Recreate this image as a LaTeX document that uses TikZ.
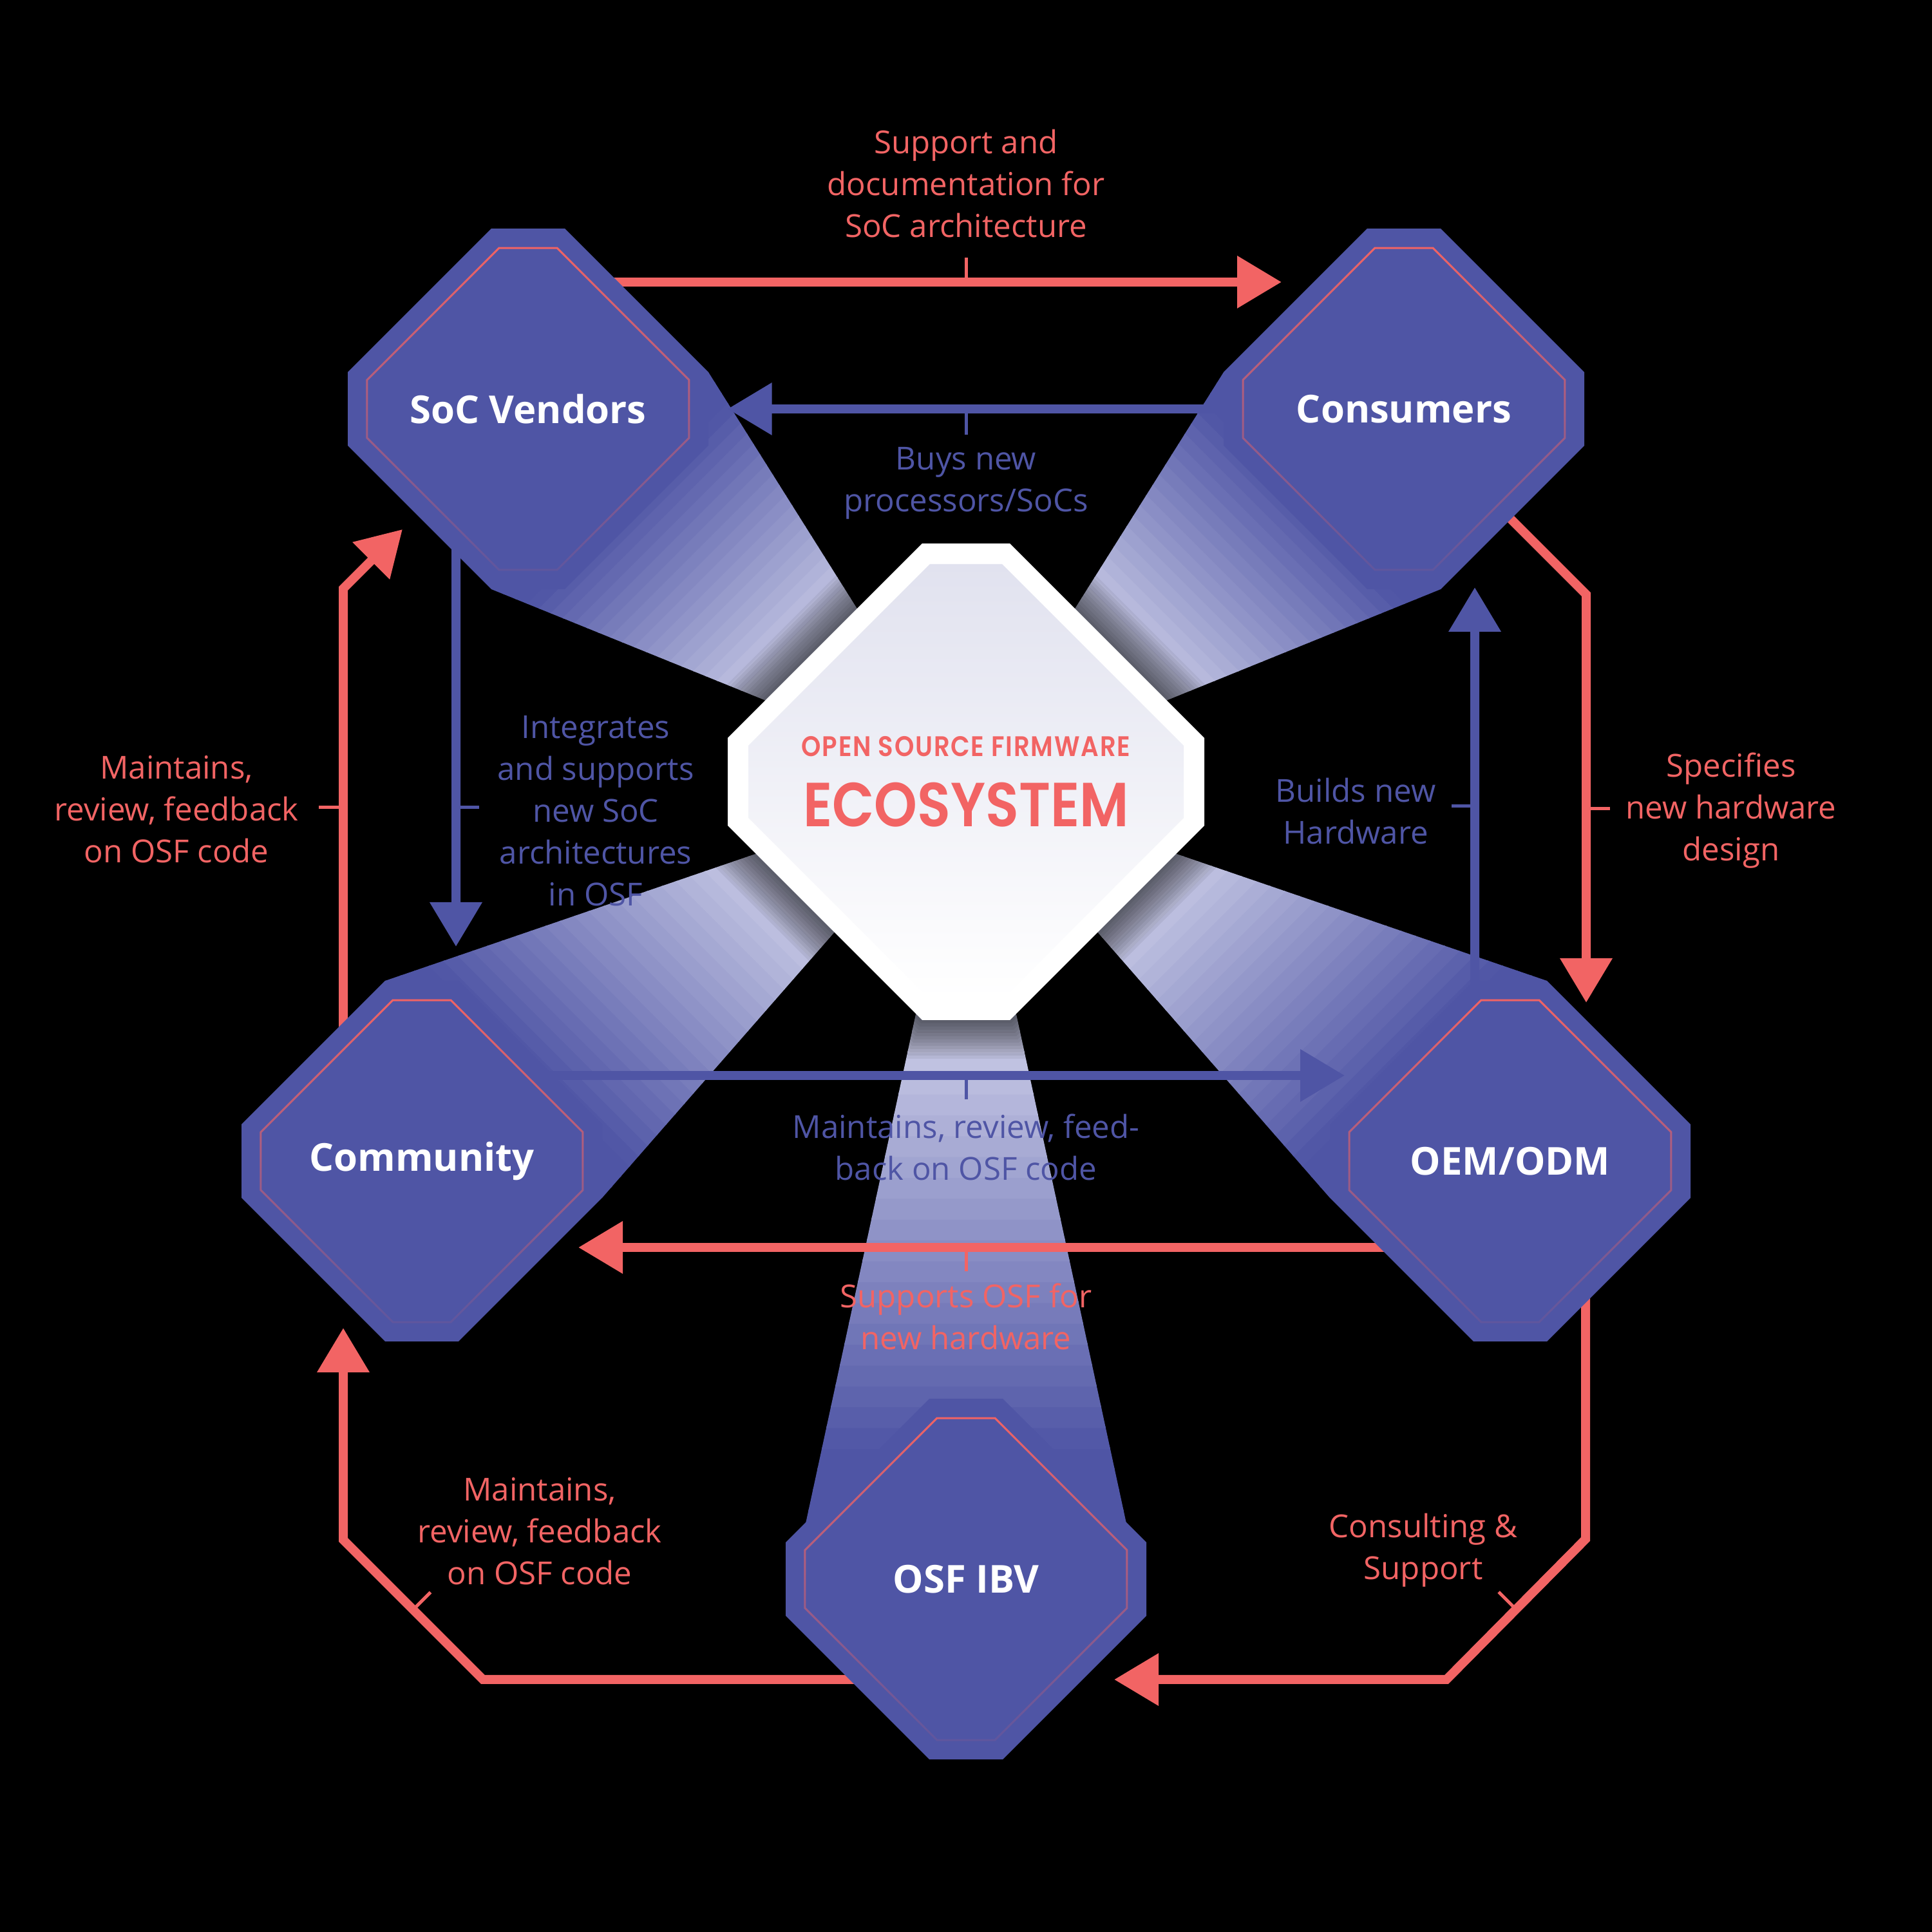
\documentclass[tikz,border=0pt]{standalone}
\usepackage{fontspec}
\setmainfont{Open Sans}
\IfFontExistsTF{Poppins SemiBold}
  {\newfontfamily\ecofont{Poppins}[FakeStretch=0.88, BoldFont={* SemiBold}]}
  {\newfontfamily\ecofont{Poppins}[FakeStretch=0.88]}
\usetikzlibrary{arrows.meta, calc, positioning, fadings}
\definecolor{osfIndigo}{HTML}{4F55A5}
\definecolor{osfRed}{HTML}{F26464}
\definecolor{osfLav}{HTML}{C9CBE6}
\definecolor{osfEcoTop}{HTML}{E1E2EF}
\pgfdeclarelayer{beamlayer}
\pgfdeclarelayer{flowlayer}
\pgfdeclarelayer{shapelayer}
\pgfsetlayers{beamlayer,flowlayer,shapelayer,main}
\tikzfading[name=octfade, top color=transparent!0, middle color=transparent!0, bottom color=transparent!90]
% octagon round a named point: half size, half flat side
\newcommand{\octagonpath}[3]{($(#1)+(-#3,#2)$) -- ($(#1)+(#3,#2)$) -- ($(#1)+(#2,#3)$) -- ($(#1)+(#2,-#3)$) -- ($(#1)+(#3,-#2)$) -- ($(#1)+(-#3,-#2)$) -- ($(#1)+(-#2,-#3)$) -- ($(#1)+(-#2,#3)$) -- cycle}
% light beam from two corners to the ecosystem centre
\newcommand{\lightbeam}[4]{%
  \foreach \i in {0,...,39}{%
    \pgfmathsetmacro{\ta}{\i/40}%
    \pgfmathsetmacro{\tb}{(\i+1.1)/40}%
    \pgfmathsetmacro{\mixv}{max(0,min(100,100*((\i+0.5)/40-#3)/(#4-#3)))}%
    \fill[osfLav!\mixv!osfIndigo] ($(#1)!\ta!(eco)$) -- ($(#1)!\tb!(eco)$) -- ($(#2)!\tb!(eco)$) -- ($(#2)!\ta!(eco)$) -- cycle;
  }}
\tikzset{
  actor/.style={minimum width=5.6cm, minimum height=5.6cm, text=white,
    font=\fontsize{17}{21}\selectfont\bfseries},
  octline/.style={draw=osfRed, line width=0.3mm, path fading=octfade},
  redflow/.style={draw=osfRed, line width=1.4mm, -{Triangle[length=6.9mm, width=7.8mm]}},
  blueflow/.style={redflow, draw=osfIndigo},
  redtick/.style={draw=osfRed, line width=0.5mm},
  bluetick/.style={redtick, draw=osfIndigo},
  redlbl/.style={text=osfRed, font=\fontsize{14}{18.5}\selectfont, align=center},
  bluelbl/.style={redlbl, text=osfIndigo}
}
\begin{document}
\begin{tikzpicture}
  % actors
  \node[actor] (soc) at (8.2,23.65) {SoC Vendors};
  \node[actor] (cons) at (21.8,23.65) {Consumers};
  \node[actor] (comm) at (6.55,11.97) {Community};
  \node[actor] (oem) at (23.45,11.97) {OEM/ODM};
  \node[actor] (ibv) at (15,5.48) {OSF IBV};
  \node[text=osfRed, align=center, font=\ecofont\bfseries\fontsize{27.5}{31}\selectfont] (eco) at (15,17.86)
    {{\fontsize{12.5}{15}\selectfont\addfontfeatures{LetterSpace=4}OPEN SOURCE FIRMWARE}\\ECOSYSTEM};

  \begin{pgfonlayer}{beamlayer}
    \fill[black] (0,0) rectangle (30,30);
    \coordinate (socA) at ($(soc)+(2.8,0.57)$);
    \coordinate (socB) at ($(soc)+(-0.57,-2.8)$);
    \coordinate (consA) at ($(cons)+(-2.8,0.57)$);
    \coordinate (consB) at ($(cons)+(0.57,-2.8)$);
    \coordinate (commA) at ($(comm)+(-0.57,2.8)$);
    \coordinate (commB) at ($(comm)+(2.8,-0.57)$);
    \coordinate (oemA) at ($(oem)+(0.57,2.8)$);
    \coordinate (oemB) at ($(oem)+(-2.8,-0.57)$);
    \coordinate (ibvA) at ($(ibv)+(-2.8,-0.57)$);
    \coordinate (ibvB) at ($(ibv)+(2.8,-0.57)$);
    \lightbeam{socA}{socB}{0.08}{0.56}
    \lightbeam{consA}{consB}{0.08}{0.56}
    \lightbeam{commA}{commB}{0.08}{0.62}
    \lightbeam{oemA}{oemB}{0.08}{0.62}
    \lightbeam{ibvA}{ibvB}{0.2}{0.7}
    % shadow of the centre
    \foreach \k in {1,...,12}{
      \pgfmathsetmacro{\sh}{3.7+0.05*\k}
      \pgfmathsetmacro{\sf}{0.68+0.02*\k}
      \fill[black, opacity=0.06] \octagonpath{eco}{\sh}{\sf};
    }
  \end{pgfonlayer}

  \begin{pgfonlayer}{flowlayer}
    \draw[redflow] ($(soc)+(1.2,1.97)$) -- ($(cons)+(-1.9,1.97)$);
    \draw[redtick] (15,25.62) -- (15,26.0);
    \draw[blueflow] ($(cons.west)+(0.3,0)$) -- ($(soc.east)+(0.29,0)$);
    \draw[bluetick] (15,23.65) -- (15,23.25);
    \draw[redflow] ($(comm)+(-1.22,2.0)$) -- ($(soc)+(-2.87,-2.79)$) -- ($(soc)+(-1.95,-1.87)$);
    \draw[redtick] (5.33,17.46) -- (4.95,17.46);
    \draw[blueflow] ($(soc)+(-1.12,-2.0)$) -- ($(comm)+(0.53,3.33)$);
    \draw[bluetick] (7.08,17.46) -- (7.44,17.46);
    \draw[blueflow] ($(oem)+(-0.55,2.5)$) -- ($(cons)+(1.1,-2.77)$);
    \draw[bluetick] (22.90,17.48) -- (22.54,17.48);
    \draw[redflow] ($(cons)+(1.5,-1.55)$) -- ($(cons)+(2.83,-2.88)$) -- ($(oem)+(1.18,2.46)$);
    \draw[redtick] (24.63,17.44) -- (25.0,17.44);
    \draw[blueflow] ($(comm)+(1.8,1.33)$) -- ($(oem)+(-2.57,1.33)$);
    \draw[bluetick] (15,13.30) -- (15,12.93);
    \draw[redflow] ($(oem)+(-1.8,-1.34)$) -- ($(comm)+(2.43,-1.34)$);
    \draw[redtick] (15,10.63) -- (15,10.26);
    \draw[redflow] ($(ibv)+(-1.5,-1.56)$) -- ($(comm)+(0.95,-8.05)$) -- ($(comm)+(-1.22,-5.88)$) -- ($(comm)+(-1.22,-2.59)$);
    \draw[redtick] (6.415,5.005) -- ++(0.27,0.27);
    \draw[redflow] ($(oem)+(1.17,-2.0)$) -- ($(oem)+(1.17,-5.87)$) -- ($(ibv)+(7.46,-1.56)$) -- ($(ibv)+(2.3,-1.56)$);
    \draw[redtick] (23.54,5.01) -- ++(-0.27,0.27);
  \end{pgfonlayer}

  \begin{pgfonlayer}{shapelayer}
    \foreach \o in {soc,cons,comm,oem,ibv}{
      \fill[osfIndigo] \octagonpath{\o}{2.8}{0.57};
      \draw[octline] \octagonpath{\o}{2.5}{0.45};
    }
    \fill[white] \octagonpath{eco}{3.7}{0.68};
    \shade[top color=osfEcoTop, bottom color=white] \octagonpath{eco}{3.38}{0.56};
  \end{pgfonlayer}

  % labels
  \node[redlbl] (lblDocs) at (15,27.15) {Support and\\documentation for\\SoC architecture};
  \node[bluelbl] (lblBuys) at (15,22.50) {Buys new\\processors/SoCs};
  \node[redlbl] (lblCommSoc) at (2.74,17.43) {Maintains,\\review, feedback\\on OSF code};
  \node[bluelbl] (lblInteg) at (9.25,17.41) {Integrates\\and supports\\new SoC\\architectures\\in OSF};
  \node[bluelbl] (lblBuilds) at (21.05,17.40) {Builds new\\Hardware};
  \node[redlbl] (lblSpec) at (26.88,17.41) {Specifies\\new hardware\\design};
  \node[bluelbl] (lblMaint) at (15,12.185) {Maintains, review, feed-\\back on OSF code};
  \node[redlbl] (lblSupp) at (15,9.555) {Supports OSF for\\new hardware};
  \node[redlbl] (lblIbv) at (8.38,6.22) {Maintains,\\review, feedback\\on OSF code};
  \node[redlbl] (lblCons) at (22.10,5.925) {Consulting \&\\Support};
\end{tikzpicture}
\end{document}
